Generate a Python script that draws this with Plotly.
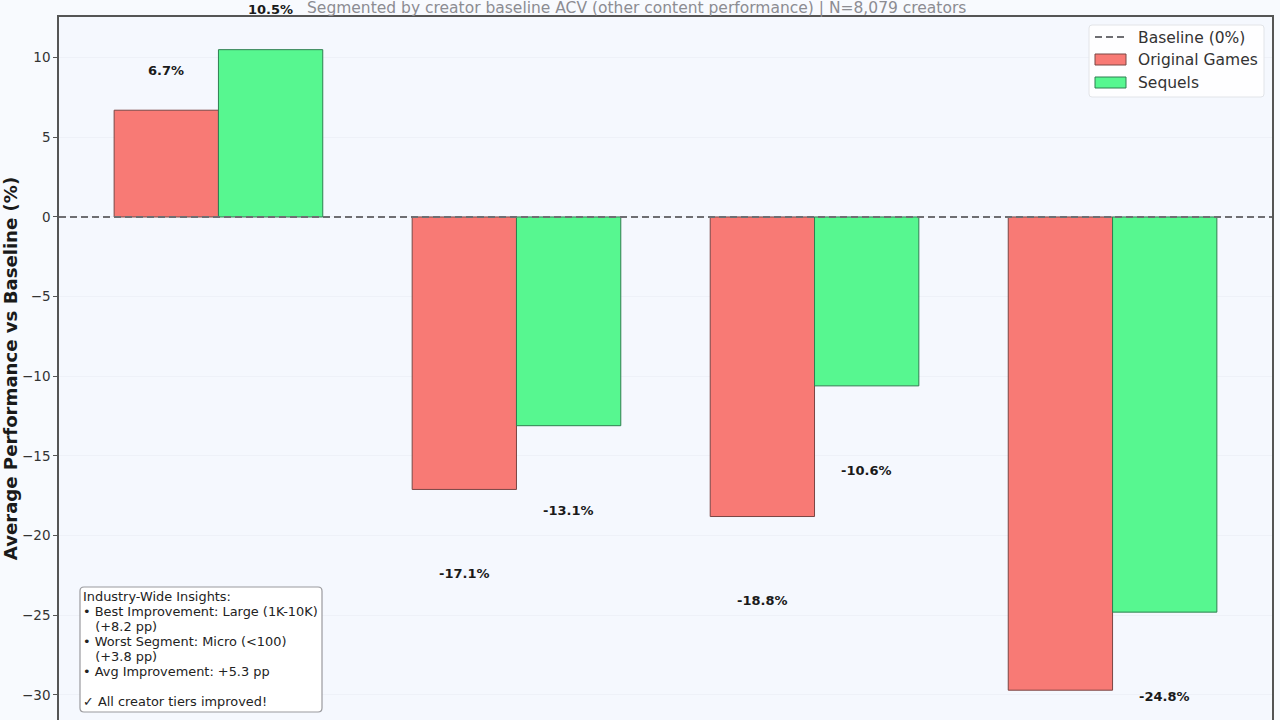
import plotly.graph_objects as go

categories = [0, 1, 2, 3]
original_games = [6.7, -17.1, -18.8, -29.7]
sequels = [10.5, -13.1, -10.6, -24.8]
y_ticks = [-30, -25, -20, -15, -10, -5, 0, 5, 10]

insight_lines = [
    "Industry-Wide Insights:",
    "• Best Improvement: Large (1K-10K)",
    "   (+8.2 pp)",
    "• Worst Segment: Micro (<100)",
    "   (+3.8 pp)",
    "• Avg Improvement: +5.3 pp",
    "",
    "✓ All creator tiers improved!",
]
legend_labels = ["Baseline (0%)", "Original Games", "Sequels"]

subtitle = "Segmented by creator baseline ACV (other content performance) | N=8,079 creators"

FONT = "DejaVu Sans"
W, H = 1280, 720
LEFT, RIGHT, TOP = 59, 1272, 17
Y_MIN, Y_MAX = -31.57, 12.55
RED, GREEN = "#F87A75", "#57F790"
RED_EDGE, GREEN_EDGE = "#7A4644", "#2F7F50"
bar_width = 0.35


def px(x):
    return (x - LEFT) / (RIGHT - LEFT)


def py(y):
    return (H - y) / (H - TOP)


def rounded_box(x0, y0, x1, y1, r):
    rx, ry = r / (RIGHT - LEFT), r / (H - TOP)
    return (f"M {px(x0)+rx} {py(y0)} L {px(x1)-rx} {py(y0)} Q {px(x1)} {py(y0)} {px(x1)} {py(y0)-ry} "
            f"L {px(x1)} {py(y1)+ry} Q {px(x1)} {py(y1)} {px(x1)-rx} {py(y1)} "
            f"L {px(x0)+rx} {py(y1)} Q {px(x0)} {py(y1)} {px(x0)} {py(y1)+ry} "
            f"L {px(x0)} {py(y0)-ry} Q {px(x0)} {py(y0)} {px(x0)+rx} {py(y0)} Z")


fig = go.Figure()
fig.add_trace(go.Bar(x=categories, y=original_games, name="Original Games",
                     marker=dict(color=RED, line=dict(color=RED_EDGE, width=1))))
fig.add_trace(go.Bar(x=categories, y=sequels, name="Sequels",
                     marker=dict(color=GREEN, line=dict(color=GREEN_EDGE, width=1))))

fig.add_hline(y=0, line=dict(color="#6E6E72", width=2, dash="7px,4px"), layer="above")

# value labels sit well away from the bars, same as the original
for i, cat in enumerate(categories):
    for offset, vals in ((-bar_width / 2, original_games), (bar_width / 2, sequels)):
        v = vals[i]
        label_y = v + 2.5 if v > 0 else v - 5.3
        if label_y < Y_MIN:
            continue
        fig.add_annotation(x=cat + offset, yref="paper", y=(label_y - Y_MIN) / (Y_MAX - Y_MIN), yanchor="middle",
                           text="<b>%.1f%%</b>" % v, showarrow=False,
                           font=dict(family=FONT, size=13, color="#1a1a1a"))

fig.add_annotation(xref="paper", yref="paper", x=px(636), y=py(8), yanchor="middle", text=subtitle, showarrow=False,
                   font=dict(family=FONT, size=15.5, color="#8C8C92"))

# insight box: rounded white panel plus one text line per row
fig.add_shape(type="path", path=rounded_box(80, 587, 322, 712, 4), xref="paper", yref="paper", layer="above",
              fillcolor="rgba(255,255,255,0.95)", line=dict(color="#9A9A9E", width=1.2))
for n, line in enumerate(insight_lines):
    if line:
        fig.add_annotation(xref="paper", yref="paper", x=px(83), y=py(596 + 15.05 * n), text=line,
                           showarrow=False, xanchor="left", yanchor="middle", xshift=-2,
                           font=dict(family=FONT, size=12.9, color="#222222"))

# legend panel, drawn by hand for the wide swatches
fig.add_shape(type="path", path=rounded_box(1089, 25, 1264, 97, 3), xref="paper", yref="paper", layer="above",
              fillcolor="rgba(255,255,255,0.85)", line=dict(color="#E2E4E8", width=1))
fig.add_shape(type="line", xref="paper", yref="paper", x0=px(1095), x1=px(1126), y0=py(37), y1=py(37),
              layer="above", line=dict(color="#6E6E72", width=2, dash="7px,4px"))
for top, fill, edge in ((54, RED, RED_EDGE), (77, GREEN, GREEN_EDGE)):
    fig.add_shape(type="rect", xref="paper", yref="paper", x0=px(1095), x1=px(1126), y0=py(top), y1=py(top + 11),
                  layer="above", fillcolor=fill, line=dict(color=edge, width=1))
for label, cy in zip(legend_labels, (38, 60, 83)):
    fig.add_annotation(xref="paper", yref="paper", x=px(1138), y=py(cy), text=label, showarrow=False,
                       xanchor="left", yanchor="middle", xshift=-2, font=dict(family=FONT, size=15.5, color="#333333"))

fig.update_layout(
    width=W, height=H,
    margin=dict(l=LEFT, r=W - RIGHT, t=TOP, b=0),
    paper_bgcolor="#F8FAFE",
    plot_bgcolor="#F5F8FE",
    barmode="group",
    bargap=1 - 2 * bar_width,
    bargroupgap=0,
    showlegend=False,
    font=dict(family=FONT, size=14, color="#333333"),
)
fig.update_xaxes(range=[-0.535, 3.535], side="top", showticklabels=False, ticks="", showgrid=False,
                 zeroline=False, showline=True, linecolor="#555555", linewidth=1.5, automargin=False)
fig.update_yaxes(range=[Y_MIN, Y_MAX], tickvals=y_ticks, showgrid=True, gridcolor="#EEF1F8", gridwidth=1,
                 zeroline=False, showline=True, mirror=True, linecolor="#555555", linewidth=1.5,
                 ticks="outside", ticklen=4, tickcolor="#555555", tickfont=dict(family=FONT, size=13.5),
                 automargin=False,
                 title=dict(text="<b>Average Performance vs Baseline (%)</b>", standoff=11,
                            font=dict(family=FONT, size=18.1, color="#1a1a1a")))

# page has a default 8px body margin that would push the figure off
fig.write_html("out.html", config=dict(displayModeBar=False),
               post_script="document.body.style.margin='0';document.body.style.overflow='hidden';")
